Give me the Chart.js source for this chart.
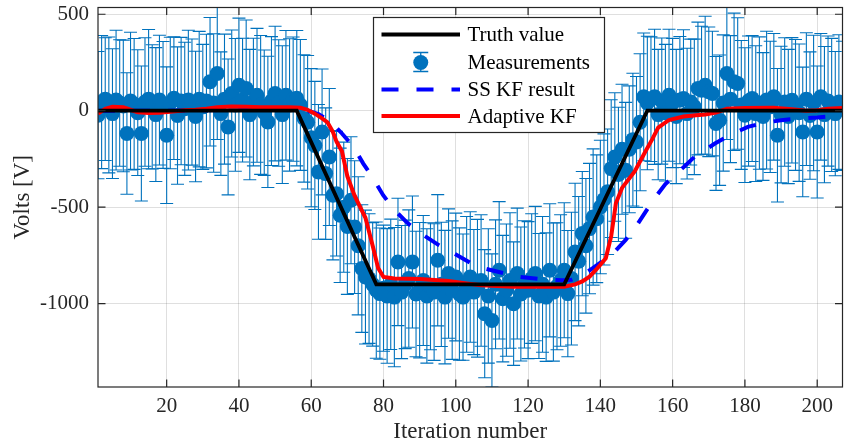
<!DOCTYPE html>
<html>
<head>
<meta charset="utf-8">
<script src="https://cdn.jsdelivr.net/npm/chart.js@4.4.0/dist/chart.umd.min.js"></script>
<style>
  html, body { margin: 0; padding: 0; background: #fff; overflow: hidden; }
  #wrap { width: 850px; height: 446px; }
</style>
</head>
<body>
<div id="wrap"><canvas id="c" width="850" height="446"></canvas></div>
<script>
// ---- data ---------------------------------------------------------------
// Noisy measurements, one per iteration (iteration = index + 1)
const measVolts = [
  -23, 45, 60, 30, -15, 55, 40, 25, -118, 50,
  35, -10, -118, 45, 60, 20, -20, 55, 30, -127,
  40, 65, -25, 50, 10, 55, 45, -30, 60, 20,
  50, 150, 40, 193, -15, 60, -84, 89, 30, 132,
  55, 115, -20, 45, 80, 30, -10, -58, 50, 89,
  40, -20, 80, 30, 60, 65, 30, -40, -60, -140,
  -180, -317, -110, -326, -240, -438, -430, -542, -500, -600,
  -464, -603, -700, -818, -862, -870, -900, -930, -948, -920,
  -960, -900, -966, -784, -940, -900, -870, -784, -950, -930,
  -880, -960, -910, -940, -775, -900, -966, -844, -930, -862,
  -950, -966, -900, -862, -940, -920, -880, -1052, -960, -1087,
  -900, -827, -974, -930, -880, -1000, -844, -950, -900, -930,
  -870, -844, -960, -900, -966, -827, -940, -910, -880, -827,
  -948, -870, -732, -780, -637, -700, -611, -551, -560, -499,
  -460, -420, -300, -240, -330, -200, -309, -200, -150, -162,
  -60, 72, 40, 60, 72, -20, 50, -10, 80, 40,
  -30, 55, 63, -15, 45, 20, 115, 106, 132, 98,
  89, -66, -49, 40, 193, 60, 150, 141, 30, -23,
  50, 63, -15, 40, -30, 55, 20, 72, -127, -20,
  45, -30, 54, 30, -10, -110, 60, -25, 40, -110,
  72, -20, 50, 30, -15, 45, 25
];
// Half length of each measurement's error bar
const measError = [
  330, 345, 318, 352, 336, 362, 328, 341, 315, 357,
  339, 326, 350, 333, 361, 322, 347, 336, 329, 354,
  341, 318, 356, 330, 345, 362, 327, 338, 351, 324,
  346, 333, 359, 342, 320, 337, 352, 329, 344, 348,
  321, 355, 338, 331, 347, 360, 325, 340, 334, 349,
  328, 357, 336, 343, 322, 351, 339, 330, 346, 358,
  332, 349, 326, 341, 355, 335, 323, 348, 337, 352,
  329, 344, 358, 331, 347, 336, 320, 353, 340, 327,
  349, 338, 361, 330, 345, 333, 356, 342, 325, 351,
  337, 348, 329, 354, 340, 322, 346, 335, 359, 331,
  343, 327, 352, 338, 324, 357, 341, 332, 348, 345,
  334, 356, 328, 343, 351, 320, 339, 347, 330, 355,
  336, 348, 324, 352, 333, 345, 358, 329, 341, 350,
  327, 344, 356, 335, 322, 349, 338, 353, 331, 346,
  340, 325, 357, 333, 348, 337, 352, 329, 344, 339,
  355, 331, 346, 323, 350, 338, 327, 354, 342, 335,
  348, 330, 357, 339, 326, 351, 344, 332, 358, 336,
  323, 347, 338, 353, 342, 329, 356, 341, 334, 349,
  337, 326, 352, 343, 331, 357, 340, 328, 346, 354,
  333, 348, 325, 339, 356, 336, 344, 330, 351, 342,
  328, 353, 337, 345, 322, 349, 335
];

// True signal (breakpoints)
const truthIter  = [1, 56, 78, 130, 153, 207];
const truthVolts = [0, 0, -900, -900, 0, 0];

// Steady-state Kalman filter estimate
const ssIter = [1, 20, 40, 55, 58, 60, 62, 65, 68.5, 71.7, 74.4, 77.2, 79.9, 83.1, 86.8, 90.4,
  95.4, 99.6, 104.1, 108.2, 114, 117.8, 124.2, 129.7, 132, 135, 138, 141, 143.5, 147, 150.2,
  153, 155.3, 158, 162.6, 166, 171.7, 176, 180.8, 185, 190, 195, 200, 207];
const ssVolts = [0, 0, 5, 5, 0, -5, -18, -50, -118, -188, -274, -352, -438, -516, -585, -637,
  -698, -741, -789, -819, -845, -862, -874, -879, -876, -853, -815, -775, -740, -670, -590,
  -510, -447, -380, -300, -240, -170, -125, -84, -64, -49, -40, -35, -25];

// Adaptive Kalman filter estimate
const akfIter = [1, 3, 5, 8, 10, 12, 15, 18, 21, 25, 28, 31, 34, 38, 42, 46, 50, 54, 57, 59,
  61, 63, 64.5, 66, 67, 68.5, 70, 72, 75, 77, 78.5, 80, 83, 90, 98, 103, 107, 116, 130, 133,
  135, 137, 139, 141.5, 143, 144.3, 146, 149.5, 152.5, 154.3, 156, 159, 163, 166.5, 169, 172,
  175, 180, 188, 193, 197, 200, 203, 207];
const akfVolts = [-15, 10, 20, 18, 5, -8, -12, -10, -5, 2, 5, 10, 18, 22, 20, 18, 18, 18, 15, 5,
  -15, -40, -60, -110, -160, -210, -340, -440, -555, -700, -815, -862, -870, -872, -882, -895,
  -905, -912, -912, -900, -885, -860, -820, -765, -650, -480, -400, -315, -210, -150, -88, -48,
  -30, -23, -20, -10, 10, 14, 16, 8, 0, 2, 10, 14];

// Axis ticks
const xTicks = [20, 40, 60, 80, 100, 120, 140, 160, 180, 200];
const yTicks = [-1000, -500, 0, 500];

// ---- styling ------------------------------------------------------------
const MEAS_COLOR = '#0072BD';
const AXIS_COLOR = '#262626';
const SERIF = '"Liberation Serif", "Times New Roman", serif';

const pairs = (xs, ys) => xs.map((v, i) => ({ x: v, y: ys[i] }));

// Vertical error bars with caps, drawn beneath every series
const errorBars = {
  id: 'errorBars',
  beforeDatasetsDraw(chart) {
    const { ctx, chartArea: a, scales: { x, y } } = chart;
    const cap = 6.5;
    ctx.save();
    ctx.beginPath();
    ctx.rect(a.left, a.top, a.right - a.left, a.bottom - a.top);
    ctx.clip();
    ctx.strokeStyle = MEAS_COLOR;
    ctx.lineWidth = 1.1;
    measVolts.forEach((v, i) => {
      const px = x.getPixelForValue(i + 1);
      const hi = y.getPixelForValue(v + measError[i]);
      const lo = y.getPixelForValue(v - measError[i]);
      ctx.beginPath();
      ctx.moveTo(px, hi); ctx.lineTo(px, lo);
      ctx.moveTo(px - cap, hi); ctx.lineTo(px + cap, hi);
      ctx.moveTo(px - cap, lo); ctx.lineTo(px + cap, lo);
      ctx.stroke();
    });
    ctx.restore();
  }
};

// Box around the axes with inward tick marks on all four sides
const axesBox = {
  id: 'axesBox',
  afterDatasetsDraw(chart) {
    const { ctx, chartArea: a, scales: { x, y } } = chart;
    const len = 7.5;
    ctx.save();
    ctx.strokeStyle = AXIS_COLOR;
    ctx.lineWidth = 1.2;
    ctx.strokeRect(a.left, a.top, a.right - a.left, a.bottom - a.top);
    ctx.beginPath();
    xTicks.forEach(v => {
      const px = x.getPixelForValue(v);
      ctx.moveTo(px, a.bottom); ctx.lineTo(px, a.bottom - len);
      ctx.moveTo(px, a.top); ctx.lineTo(px, a.top + len);
    });
    yTicks.forEach(v => {
      const py = y.getPixelForValue(v);
      ctx.moveTo(a.left, py); ctx.lineTo(a.left + len, py);
      ctx.moveTo(a.right, py); ctx.lineTo(a.right - len, py);
    });
    ctx.stroke();
    ctx.restore();
  }
};

// Legend box placed inside the axes
const boxedLegend = {
  id: 'boxedLegend',
  afterDraw(chart) {
    const { ctx } = chart;
    const L = 373.5, T = 17.5, W = 231, H = 115;
    const rowY = [34.5, 62.5, 89.5, 116];
    const x0 = 381.5, x1 = 460, tx = 467.5;
    ctx.save();
    ctx.fillStyle = '#fff';
    ctx.fillRect(L, T, W, H);
    ctx.strokeStyle = AXIS_COLOR;
    ctx.lineWidth = 1.2;
    ctx.strokeRect(L, T, W, H);
    ctx.font = '21px ' + SERIF;
    ctx.textBaseline = 'middle';
    ctx.fillStyle = '#000';
    chart.data.datasets.forEach((ds, i) => {
      const yy = rowY[i];
      if (ds.showLine === false) {
        const cx = (x0 + x1) / 2, cap = 7.5;
        ctx.strokeStyle = ds.backgroundColor;
        ctx.lineWidth = 1.3;
        ctx.beginPath();
        ctx.moveTo(cx, yy - 10); ctx.lineTo(cx, yy + 9);
        ctx.moveTo(cx - cap, yy - 10); ctx.lineTo(cx + cap, yy - 10);
        ctx.moveTo(cx - cap, yy + 9); ctx.lineTo(cx + cap, yy + 9);
        ctx.stroke();
        ctx.fillStyle = ds.backgroundColor;
        ctx.beginPath();
        ctx.arc(cx, yy, ds.pointRadius, 0, Math.PI * 2);
        ctx.fill();
      } else {
        ctx.strokeStyle = ds.borderColor;
        ctx.lineWidth = ds.borderWidth;
        ctx.setLineDash(ds.borderDash || []);
        ctx.beginPath();
        ctx.moveTo(x0, yy); ctx.lineTo(x1, yy);
        ctx.stroke();
        ctx.setLineDash([]);
      }
      ctx.fillStyle = '#000';
      ctx.fillText(ds.label, tx, yy + 1);
    });
    ctx.restore();
  }
};

// Keep the plot box at a fixed place: no extra room for edge tick labels
const noEdgePadding = s => {
  s.paddingTop = 0; s.paddingBottom = 0; s.paddingLeft = 0; s.paddingRight = 0;
};

new Chart(document.getElementById('c'), {
  data: {
    datasets: [
      {
        type: 'line', label: 'Truth value', data: pairs(truthIter, truthVolts),
        borderColor: '#000', borderWidth: 3.8, pointRadius: 0, order: 0
      },
      {
        type: 'line', label: 'Measurements',
        data: measVolts.map((v, i) => ({ x: i + 1, y: v })),
        showLine: false, pointRadius: 7.5, pointBorderWidth: 0,
        backgroundColor: MEAS_COLOR, borderColor: MEAS_COLOR, order: 3
      },
      {
        type: 'line', label: 'SS KF result', data: pairs(ssIter, ssVolts),
        borderColor: '#0000FF', borderWidth: 4, borderDash: [17, 18], pointRadius: 0, order: 2
      },
      {
        type: 'line', label: 'Adaptive KF', data: pairs(akfIter, akfVolts),
        borderColor: '#FF0000', borderWidth: 4, pointRadius: 0, order: 1
      }
    ]
  },
  options: {
    responsive: false,
    animation: false,
    events: [],
    layout: { padding: { top: 7, right: 0, left: 0, bottom: 0 } },
    plugins: { legend: { display: false }, tooltip: { enabled: false } },
    scales: {
      x: {
        type: 'linear', min: 1, max: 207,
        afterBuildTicks: s => { s.ticks = xTicks.map(v => ({ value: v })); },
        afterFit: s => { s.height = 59; noEdgePadding(s); },
        grid: { color: 'rgba(38,38,38,0.15)', lineWidth: 1, drawTicks: false },
        border: { display: false },
        ticks: {
          font: { family: SERIF, size: 21 }, color: AXIS_COLOR, padding: 7, maxRotation: 0,
          callback: v => String(v)
        },
        title: {
          display: true, text: 'Iteration number', color: AXIS_COLOR,
          font: { family: SERIF, size: 23 }, padding: { top: 0, bottom: 0 }
        }
      },
      y: {
        type: 'linear', min: -1432, max: 535,
        afterBuildTicks: s => { s.ticks = yTicks.map(v => ({ value: v })); },
        afterFit: s => { s.width = 98; noEdgePadding(s); },
        grid: { color: 'rgba(38,38,38,0.15)', lineWidth: 1, drawTicks: false },
        border: { display: false },
        ticks: {
          font: { family: SERIF, size: 21 }, color: AXIS_COLOR, padding: 9,
          callback: v => String(v)
        },
        title: {
          display: true, text: 'Volts [V]', color: AXIS_COLOR,
          font: { family: SERIF, size: 23 }, padding: { top: 9, bottom: 0 }
        }
      }
    }
  },
  plugins: [errorBars, axesBox, boxedLegend]
});
</script>
</body>
</html>
